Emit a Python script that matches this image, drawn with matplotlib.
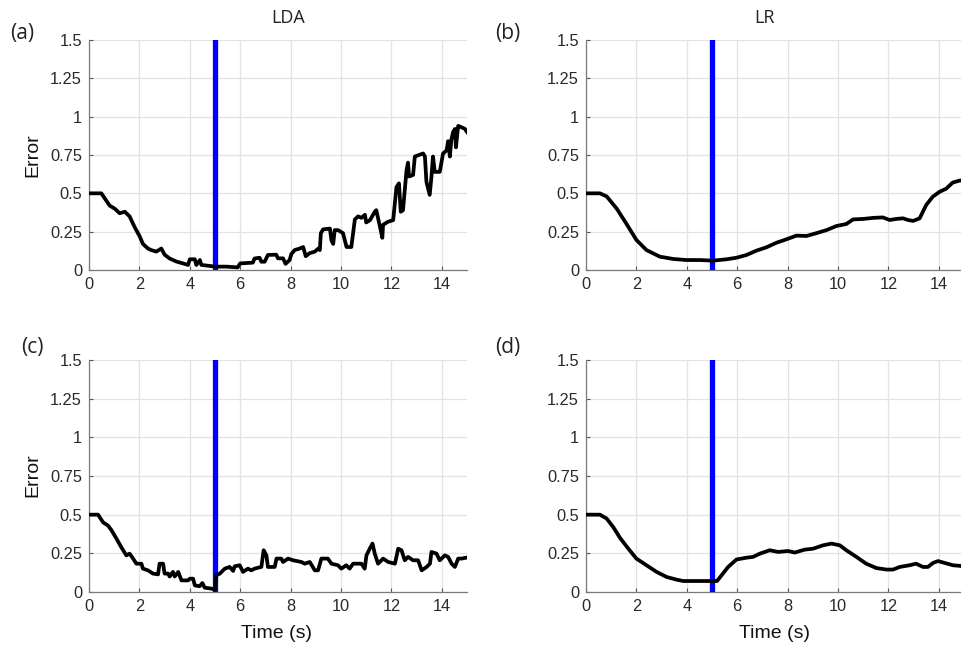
import numpy as np
import matplotlib
matplotlib.use("Agg")
import matplotlib.pyplot as plt

# valori (tempo in s, errore)
t_a = [0, 0.49, 0.82, 1.02, 1.22, 1.42, 1.61, 1.81, 2.01, 2.14, 2.34, 2.47, 2.67, 2.87, 3.0, 3.2,
       3.47, 3.73, 3.93, 4.0, 4.2, 4.26, 4.4, 4.46, 4.72, 5.0, 5.45, 5.9, 6.0, 6.5, 6.57, 6.77,
       6.84, 6.97, 7.1, 7.43, 7.5, 7.7, 7.8, 7.96, 8.03, 8.16, 8.36, 8.5, 8.6, 8.76, 8.96, 9.1,
       9.16, 9.2, 9.29, 9.56, 9.62, 9.69, 9.75, 9.89, 10.08, 10.22, 10.41, 10.55, 10.68, 10.81,
       10.95, 11.0, 11.15, 11.34, 11.4, 11.55, 11.64, 11.67, 11.87, 12.07, 12.2, 12.3, 12.37,
       12.46, 12.6, 12.66, 12.7, 12.86, 12.93, 13.26, 13.33, 13.39, 13.52, 13.59, 13.65, 13.72,
       13.92, 14.05, 14.19, 14.25, 14.32, 14.38, 14.45, 14.52, 14.56, 14.65, 14.79, 14.92, 15.0]
e_a = [0.5, 0.5, 0.42, 0.40, 0.37, 0.38, 0.35, 0.28, 0.22, 0.17, 0.14, 0.13, 0.12, 0.14, 0.10, 0.075,
       0.055, 0.043, 0.033, 0.07, 0.07, 0.033, 0.065, 0.033, 0.028, 0.022, 0.022, 0.017, 0.043, 0.048, 0.075, 0.08,
       0.054, 0.054, 0.098, 0.10, 0.076, 0.076, 0.04, 0.065, 0.104, 0.13, 0.14, 0.15, 0.09, 0.11, 0.12, 0.14,
       0.13, 0.24, 0.265, 0.27, 0.195, 0.17, 0.26, 0.26, 0.24, 0.15, 0.15, 0.33, 0.35, 0.34,
       0.36, 0.31, 0.325, 0.38, 0.39, 0.28, 0.21, 0.295, 0.315, 0.325, 0.54, 0.565, 0.38,
       0.39, 0.65, 0.70, 0.61, 0.62, 0.74, 0.76, 0.74, 0.575, 0.49, 0.61, 0.74, 0.64,
       0.64, 0.76, 0.78, 0.84, 0.74, 0.85, 0.90, 0.92, 0.80, 0.94, 0.93, 0.92, 0.90]

t_b = [0, 0.55, 0.82, 1.22, 1.61, 2.0, 2.4, 2.93, 3.46, 3.99, 4.52, 5.04, 5.58, 5.97, 6.37, 6.76,
       7.16, 7.56, 7.95, 8.35, 8.75, 9.14, 9.54, 9.94, 10.33, 10.6, 11.0, 11.4, 11.78, 12.05,
       12.31, 12.58, 12.78, 12.98, 13.24, 13.5, 13.76, 14.03, 14.29, 14.55, 14.82, 15.0]
e_b = [0.5, 0.5, 0.48, 0.40, 0.30, 0.196, 0.13, 0.087, 0.072, 0.065, 0.065, 0.061, 0.07, 0.08, 0.098, 0.126,
       0.148, 0.178, 0.20, 0.224, 0.222, 0.24, 0.26, 0.287, 0.30, 0.33, 0.333, 0.34, 0.343, 0.326,
       0.333, 0.337, 0.326, 0.32, 0.337, 0.424, 0.478, 0.51, 0.53, 0.57, 0.583, 0.585]

t_c = [0, 0.36, 0.56, 0.75, 0.89, 1.09, 1.28, 1.48, 1.61, 1.75, 1.88, 2.08, 2.14, 2.34, 2.54, 2.74,
       2.8, 2.94, 3.0, 3.14, 3.2, 3.33, 3.4, 3.54, 3.67, 3.93, 4.0, 4.13, 4.2, 4.39, 4.5, 4.59,
       4.86, 5.0, 5.05, 5.19, 5.39, 5.58, 5.72, 5.78, 5.98, 6.11, 6.31, 6.44, 6.57, 6.84, 6.93,
       7.04, 7.1, 7.37, 7.44, 7.63, 7.7, 7.9, 8.1, 8.43, 8.56, 8.76, 8.96, 9.09, 9.22, 9.48,
       9.62, 9.88, 10.01, 10.21, 10.34, 10.48, 10.81, 10.94, 11.01, 11.14, 11.25, 11.34, 11.47,
       11.67, 11.87, 12.14, 12.27, 12.4, 12.53, 12.66, 12.86, 13.06, 13.2, 13.4, 13.53, 13.59,
       13.79, 13.92, 14.12, 14.25, 14.39, 14.52, 14.65, 14.78, 14.97]
e_c = [0.5, 0.5, 0.45, 0.43, 0.40, 0.345, 0.29, 0.237, 0.248, 0.216, 0.183, 0.183, 0.151, 0.14, 0.119, 0.114,
       0.183, 0.183, 0.119, 0.119, 0.10, 0.13, 0.10, 0.13, 0.075, 0.075, 0.086, 0.086, 0.043, 0.037, 0.058, 0.028,
       0.022, 0.015, 0.108, 0.119, 0.151, 0.162, 0.136, 0.166, 0.173, 0.13, 0.151, 0.14, 0.151, 0.162, 0.27,
       0.237, 0.162, 0.162, 0.216, 0.216, 0.194, 0.216, 0.205, 0.194, 0.183, 0.194, 0.14, 0.14, 0.216, 0.216,
       0.183, 0.173, 0.151, 0.173, 0.151, 0.183, 0.183, 0.151, 0.237, 0.28, 0.313, 0.248, 0.183,
       0.216, 0.194, 0.183, 0.28, 0.27, 0.205, 0.227, 0.205, 0.205, 0.14, 0.162, 0.183, 0.259,
       0.248, 0.205, 0.237, 0.227, 0.183, 0.162, 0.216, 0.216, 0.222]

t_d = [0, 0.55, 0.82, 1.08, 1.35, 1.68, 2.0, 2.4, 2.8, 3.2, 3.59, 3.86, 4.39, 4.98, 5.2, 5.38,
       5.64, 5.97, 6.37, 6.63, 6.9, 7.29, 7.62, 8.02, 8.28, 8.68, 9.01, 9.41, 9.74, 10.07, 10.33,
       10.73, 11.12, 11.52, 11.92, 12.18, 12.45, 12.84, 13.1, 13.37, 13.57, 13.77, 13.97, 14.23,
       14.56, 14.9, 15.0]
e_d = [0.5, 0.5, 0.475, 0.42, 0.35, 0.28, 0.216, 0.173, 0.13, 0.097, 0.08, 0.071, 0.071, 0.071, 0.071, 0.108,
       0.162, 0.21, 0.222, 0.227, 0.248, 0.27, 0.259, 0.265, 0.255, 0.274, 0.28, 0.302, 0.313, 0.302, 0.27,
       0.227, 0.183, 0.155, 0.145, 0.145, 0.162, 0.173, 0.183, 0.162, 0.162, 0.188, 0.2, 0.188,
       0.173, 0.168, 0.168]

t_evento = 5
xticks = [0, 2, 4, 6, 8, 10, 12, 14]
yticks = [0, 0.25, 0.5, 0.75, 1, 1.25, 1.5]
ytick_labels = ["0", "0.25", "0.5", "0.75", "1", "1.25", "1.5"]

W, H = 962, 646
fig = plt.figure(figsize=(W / 100, H / 100), dpi=100)


def px(x, y):
    # pixel -> coordinate figura
    return x / W, 1 - y / H


def pannello(left, top, bottom, t, e):
    ax = fig.add_axes([left / W, 1 - bottom / H, 378 / W, (bottom - top) / H])
    ax.grid(True, color="#e3e3e3", linewidth=0.9)
    ax.set_axisbelow(True)
    ax.axvline(t_evento, color="#0000ff", linewidth=3.8, zorder=3)
    ax.plot(t, e, color="black", linewidth=2.7, zorder=4)
    ax.set_xlim(0, 15)
    ax.set_ylim(0, 1.5)
    ax.set_xticks(xticks)
    ax.set_yticks(yticks)
    ax.set_yticklabels(ytick_labels)
    for s in ["top", "right"]:
        ax.spines[s].set_visible(False)
    for s in ["left", "bottom"]:
        ax.spines[s].set_color("#7a7a7a")
        ax.spines[s].set_linewidth(0.9)
    ax.tick_params(direction="in", length=3, width=0.8, color="#555555",
                   labelsize=11.8, labelcolor="#2a2a2a", pad=5)
    for lab in ax.get_xticklabels() + ax.get_yticklabels():
        lab.set_fontfamily("Liberation Sans")
    return ax


pannello(89, 40, 270, t_a, e_a)
pannello(586, 40, 270, t_b, e_b)
pannello(89, 360, 592, t_c, e_c)
pannello(586, 360, 592, t_d, e_d)

tf = dict(family="Open Sans", color="#222222")
fig.text(*px(288, 18), "LDA", ha="center", va="center", fontsize=13, **tf)
fig.text(*px(764, 18), "LR", ha="center", va="center", fontsize=13, **tf)
fig.text(*px(10, 33), "(a)", ha="left", va="center", fontsize=15, **tf)
fig.text(*px(495, 33), "(b)", ha="left", va="center", fontsize=15, **tf)
fig.text(*px(21, 348), "(c)", ha="left", va="center", fontsize=15, **tf)
fig.text(*px(495, 348), "(d)", ha="left", va="center", fontsize=15, **tf)

lf = dict(family="Liberation Sans", color="#111111", fontsize=14)
fig.text(*px(33, 155), "Error", rotation=90, ha="center", va="center", **lf)
fig.text(*px(33, 475), "Error", rotation=90, ha="center", va="center", **lf)
fig.text(*px(277, 634), "Time (s)", ha="center", va="center", **lf)
fig.text(*px(775, 634), "Time (s)", ha="center", va="center", **lf)

fig.savefig("out.png", dpi=100)
